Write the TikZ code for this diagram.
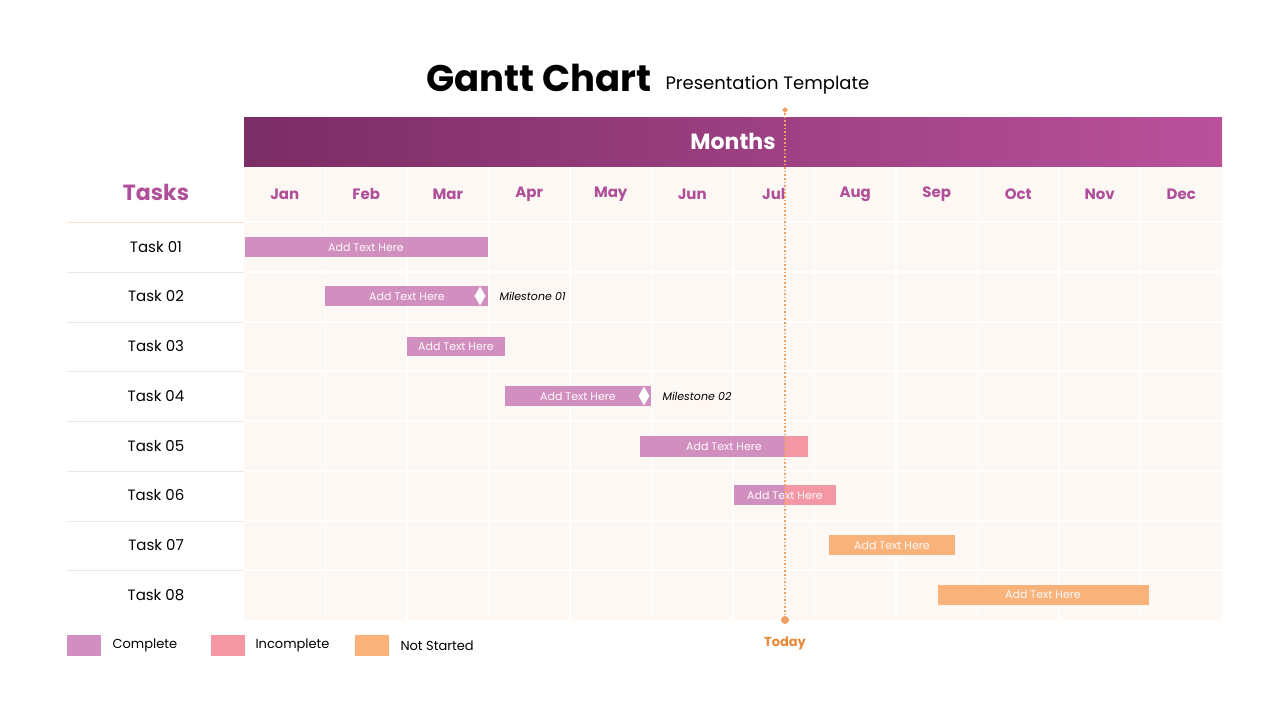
\documentclass[tikz,border=0pt]{standalone}
\usepackage{fontspec}
\setmainfont{Poppins}
\usetikzlibrary{shapes.geometric}
\definecolor{comp}{HTML}{D18FC0}
\definecolor{incomp}{HTML}{F497A5}
\definecolor{nots}{HTML}{F8B27A}
\definecolor{tod}{HTML}{F0A060}
\definecolor{todt}{HTML}{E8893A}
\definecolor{hdA}{HTML}{7B2D65}
\definecolor{hdB}{HTML}{B9519A}
\definecolor{mon}{HTML}{B04F99}
\definecolor{cream}{HTML}{FDF8F4}
\tikzset{
 x=1pt,y=-1pt,
 bartxt/.style={font=\fontsize{11}{12}\selectfont\color{white!92!pink}},
 monlab/.style={font=\fontsize{15}{16}\selectfont\bfseries\color{mon}},
 tasklab/.style={font=\fontsize{15}{16}\selectfont},
 miles/.style={diamond,fill=white,inner sep=0pt,minimum width=11pt,minimum height=19pt},
 mtxt/.style={font=\fontsize{11}{12}\selectfont\itshape,anchor=west},
 legtxt/.style={font=\fontsize{13}{14}\selectfont,anchor=west},
}
\begin{document}
\begin{tikzpicture}
\useasboundingbox (0,0) rectangle (1280,720);
\fill[white] (0,0) rectangle (1280,720);
% title
\node[anchor=base east,font=\fontsize{37}{40}\selectfont\bfseries] (t1) at (655,91) {Gantt Chart};
\node[anchor=base west,font=\fontsize{18}{20}\selectfont] (t2) at (662,89) {Presentation Template};
% grid background
\fill[cream] (244,166) rectangle (1222,620);
\foreach \i in {1,...,11} \draw[white,line width=1.2pt] ({244+81.5*\i},166) -- ({244+81.5*\i},620);
\foreach \y in {222,272,322,371,421,471,521,570} \draw[white,line width=1.2pt] (244,\y) -- (1222,\y);
% header
\shade[left color=hdA,right color=hdB] (244,117) rectangle (1222,166);
\node[font=\fontsize{22}{24}\selectfont\bfseries,text=white] (mh) at (733,141) {Months};
\foreach \m [count=\i from 0] in {Jan,Feb,Mar,Apr,May,Jun,Jul,Aug,Sep,Oct,Nov,Dec}
  \node[monlab] (m\i) at ({284.75+81.5*\i},194) {\m};
% tasks column
\node[font=\fontsize{22}{24}\selectfont\bfseries,text=mon] (tk) at (156,192) {Tasks};
\draw[nots!40,line width=0.8pt] (67,222) -- (244,222);
\foreach \y in {272,322,371,421,471,521,570} \draw[gray!18,line width=0.8pt] (67,\y) -- (244,\y);
\foreach \t/\y in {01/247,02/296,03/346,04/396,05/446,06/495,07/545,08/595}
  \node[tasklab] (task\t) at (156,\y) {Task \t};
% bars
\fill[comp] (245,237) rectangle (488,257);
\node[bartxt] (b1) at (366,247) {Add Text Here};
\fill[comp] (325,286) rectangle (488,306);
\node[bartxt] (b2) at (407,296) {Add Text Here};
\node[miles] (ms1) at (480,296) {};
\node[mtxt] (mt1) at (496,296) {Milestone 01};
\fill[comp] (407,337) rectangle (505,356);
\node[bartxt] (b3) at (456,346.5) {Add Text Here};
\fill[comp] (505,386) rectangle (651,406);
\node[bartxt] (b4) at (578,396) {Add Text Here};
\node[miles] (ms2) at (644,396) {};
\node[mtxt] (mt2) at (659,396) {Milestone 02};
\fill[comp] (640,436) rectangle (785,457);
\fill[incomp] (785,436) rectangle (808,457);
\node[bartxt] (b5) at (724,446) {Add Text Here};
\fill[comp] (734,485) rectangle (785,505);
\fill[incomp] (785,485) rectangle (836,505);
\node[bartxt] (b6) at (785,495) {Add Text Here};
\fill[nots] (829,535) rectangle (955,555);
\node[bartxt] (b7) at (892,545) {Add Text Here};
\fill[nots] (938,585) rectangle (1149,605);
\node[bartxt] (b8) at (1043,594) {Add Text Here};
% today
\node[diamond,fill=tod,inner sep=0pt,minimum size=6pt] (td) at (785,110) {};
\node[circle,fill=tod,inner sep=0pt,minimum size=8pt] (tb) at (785,620) {};
\draw[tod,line width=1.6pt,dotted] (td) -- (tb);
\node[font=\fontsize{13}{14}\selectfont\bfseries,text=todt] (today) at (785,643) {Today};
% legend
\fill[comp] (67,635) rectangle (101,656);
\node[legtxt] (l1) at (109,645.5) {Complete};
\fill[incomp] (211,635) rectangle (245,656);
\node[legtxt] (l2) at (252,645.5) {Incomplete};
\fill[nots] (355,635) rectangle (389,656);
\node[legtxt] (l3) at (397,645.5) {Not Started};
\end{tikzpicture}
\end{document}
